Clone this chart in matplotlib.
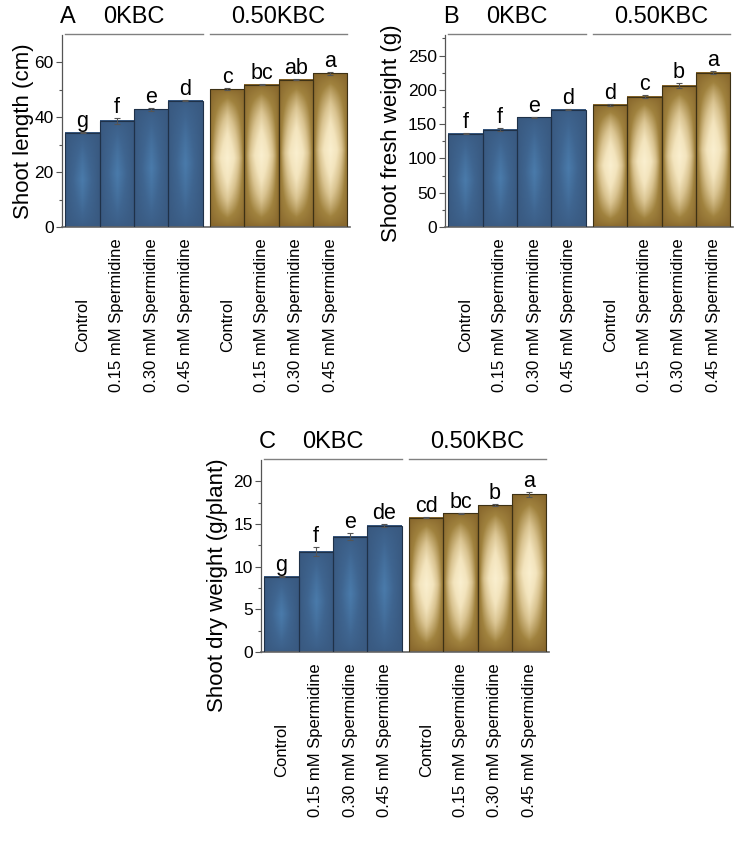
import matplotlib
matplotlib.use("Agg")
import matplotlib.pyplot as plt
import numpy as np
from matplotlib.colors import LinearSegmentedColormap

plt.rcParams['font.family'] = ['Liberation Sans', 'DejaVu Sans']

treatments = ["Control", "0.15 mM Spermidine", "0.30 mM Spermidine", "0.45 mM Spermidine",
              "Control", "0.15 mM Spermidine", "0.30 mM Spermidine", "0.45 mM Spermidine"]
groups = ["0KBC", "0.50KBC"]

# shoot length (cm)
length_mean = [34.4, 38.7, 42.9, 46.1, 50.3, 51.9, 53.7, 56.0]
length_err = [0.2, 1.2, 0.6, 0.2, 0.3, 0.3, 0.2, 0.5]
length_let = ["g", "f", "e", "d", "c", "bc", "ab", "a"]

# shoot fresh weight (g)
fresh_mean = [135.8, 142.0, 160.0, 170.7, 178.5, 190.0, 206.0, 225.0]
fresh_err = [0.8, 1.8, 0.8, 0.8, 1.5, 2.5, 4.0, 2.0]
fresh_let = ["f", "f", "e", "d", "d", "c", "b", "a"]

# shoot dry weight (g/plant)
dry_mean = [8.84, 11.75, 13.5, 14.8, 15.76, 16.27, 17.2, 18.5]
dry_err = [0.08, 0.5, 0.4, 0.2, 0.1, 0.05, 0.12, 0.3]
dry_let = ["g", "f", "e", "de", "cd", "bc", "b", "a"]

xpos = np.r_[np.arange(4), np.arange(4) + 4.22]

blue_cm = LinearSegmentedColormap.from_list("bl", ["#395980", "#3f6590", "#4a7bab"])
gold_cm = LinearSegmentedColormap.from_list(
    "gd", [(0, "#84632a"), (0.32, "#a0823e"), (0.58, "#d9c390"), (0.78, "#f3e4bd"), (1, "#faefcf")])


def gradient(kind):
    u = np.linspace(-1, 1, 80)
    v = np.linspace(-1, 1, 240)
    U, V = np.meshgrid(u, v)
    a = 1 - np.abs(U)
    b = 1 - np.abs(V)
    if kind == "blue":
        return a ** 0.9 * b ** 0.5
    return a ** 0.5 * b ** 0.55


def panel(ax, mean, err, let, ylab, ymax, major, minor, letter, lab_x, lab_y):
    for i in range(len(mean)):
        kind = "blue" if i < 4 else "gold"
        cm = blue_cm if kind == "blue" else gold_cm
        ax.imshow(gradient(kind), cmap=cm, vmin=0, vmax=1, aspect='auto',
                  extent=(xpos[i] - 0.5, xpos[i] + 0.5, 0, mean[i]),
                  interpolation='bilinear', zorder=2)
        ec = "#1f3148" if kind == "blue" else "#3d3115"
        ax.bar(xpos[i], mean[i], width=1, fill=False, edgecolor=ec, linewidth=0.8, zorder=3)
        ax.errorbar(xpos[i], mean[i], yerr=err[i], fmt='none', ecolor="#555555",
                    elinewidth=0.8, capsize=2, capthick=0.8, zorder=4)
        ax.text(xpos[i], mean[i] + err[i], let[i], ha='center', va='bottom',
                fontsize=15.5, zorder=5)

    ax.set_xlim(-0.6, 7.8)
    ax.set_ylim(0, ymax)
    ax.set_yticks(np.arange(0, ymax, major))
    ax.set_yticks(np.arange(minor, ymax, major), minor=True)
    ax.set_xticks([])
    ax.tick_params(axis='y', which='major', direction='out', length=4, width=0.8,
                   labelsize=12.5, color="#555555", pad=2)
    ax.tick_params(axis='y', which='minor', direction='out', length=2, width=0.8, color="#555555")
    for s in ["top", "right"]:
        ax.spines[s].set_visible(False)
    ax.spines["left"].set_color("#555555")
    ax.spines["bottom"].set_color("#666666")
    ax.spines["left"].set_linewidth(0.9)
    ax.spines["bottom"].set_linewidth(1.2)

    ax.set_ylabel(ylab, fontsize=16)
    ax.yaxis.set_label_coords(lab_x, lab_y)

    # treatment labels under the bars
    tr = ax.get_xaxis_transform()
    for i in range(len(treatments)):
        yc = -0.51 if treatments[i] == "Control" else -0.458
        ax.text(xpos[i], yc, treatments[i], rotation=90, ha='center', va='center',
                fontsize=12, transform=tr)

    # group brackets
    for g in range(2):
        x0 = xpos[4 * g] - 0.5
        x1 = xpos[4 * g + 3] + 0.5
        ax.plot([x0, x1], [1.005, 1.005], color="#808080", lw=1, transform=tr, clip_on=False)
        ax.text((x0 + x1) / 2, 1.094, groups[g], ha='center', va='center', fontsize=17, transform=tr)

    ax.text(0.02, 1.094, letter, ha='center', va='center', fontsize=17, transform=ax.transAxes)


fig = plt.figure(figsize=(7.44, 8.44), dpi=100)
axA = fig.add_axes([62 / 744, 1 - 227 / 844, 288 / 744, 192 / 844])
axB = fig.add_axes([445 / 744, 1 - 227 / 844, 288 / 744, 192 / 844])
axC = fig.add_axes([261 / 744, 1 - 652 / 844, 288 / 744, 192 / 844])

panel(axA, length_mean, length_err, length_let, "Shoot length (cm)", 70, 20, 10, "A", -0.097, 0.5)
panel(axB, fresh_mean, fresh_err, fresh_let, "Shoot fresh weight (g)", 280, 50, 25, "B", -0.149, 0.49)
panel(axC, dry_mean, dry_err, dry_let, "Shoot dry weight (g/plant)", 22.5, 5, 2.5, "C", -0.115, 0.35)

fig.savefig("out.png", dpi=100)
